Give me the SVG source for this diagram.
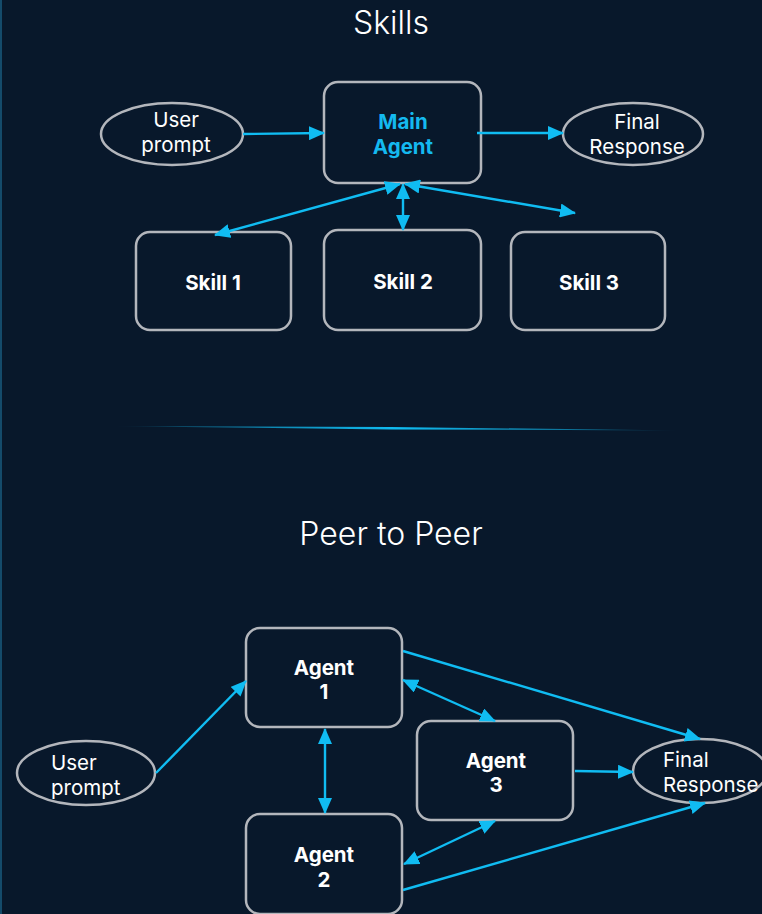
<svg xmlns="http://www.w3.org/2000/svg" width="762" height="914" viewBox="0 0 762 914">
  <defs>
    <style>
      .bg { fill: #08182b; }
      .box { fill: #08182b; stroke: #b3b6bc; stroke-width: 2.5; }
      .oval { fill: #08182b; stroke: #b3b6bc; stroke-width: 2.5; }
      .title { font-family: Inter, "Liberation Sans", sans-serif; font-size: 32px; font-weight: 300; fill: #ffffff; text-anchor: middle; }
      .lbl { font-family: Inter, "Liberation Sans", sans-serif; font-size: 20.5px; font-weight: 700; fill: #ffffff; text-anchor: middle; }
      .lbl-main { fill: #14b9f0; }
      .olbl { font-family: Inter, "Liberation Sans", sans-serif; font-size: 20.5px; font-weight: 400; fill: #ffffff; }
      .mid { text-anchor: middle; }
      .edge { stroke: #10bcf2; stroke-width: 2.4; fill: none; }
      .one { marker-end: url(#head); }
      .two { marker-start: url(#head); marker-end: url(#head); }
    </style>
    <marker id="head" viewBox="0 0 16 14" refX="15" refY="7" markerWidth="16" markerHeight="14" markerUnits="userSpaceOnUse" orient="auto-start-reverse">
      <path d="M0,0 L16,7 L0,14 z" fill="#10bcf2"/>
    </marker>
    <linearGradient id="rule" x1="112" y1="0" x2="682" y2="0" gradientUnits="userSpaceOnUse">
      <stop offset="0" stop-color="#10bcf2" stop-opacity="0"/>
      <stop offset="0.12" stop-color="#10bcf2" stop-opacity="0.45"/>
      <stop offset="0.5" stop-color="#10bcf2" stop-opacity="1"/>
      <stop offset="0.85" stop-color="#10bcf2" stop-opacity="0.5"/>
      <stop offset="1" stop-color="#10bcf2" stop-opacity="0"/>
    </linearGradient>
  </defs>

  <rect class="bg" x="0" y="0" width="762" height="914"/>
  <line x1="1" y1="0" x2="1" y2="914" stroke="#1d6f96" stroke-width="1.2"/>

  <!-- Skills section -->
  <text class="title" x="391" y="34">Skills</text>

  <g id="skills-user-prompt">
    <ellipse class="oval" cx="172" cy="134" rx="71" ry="31"/>
    <text class="olbl mid" x="176" y="127">User</text>
    <text class="olbl mid" x="176" y="152">prompt</text>
  </g>
  <g id="main-agent">
    <rect class="box" x="324" y="82" width="157" height="101" rx="14"/>
    <text class="lbl lbl-main" x="403" y="129">Main</text>
    <text class="lbl lbl-main" x="403" y="154">Agent</text>
  </g>
  <g id="skills-final-response">
    <ellipse class="oval" cx="633" cy="134" rx="70" ry="31"/>
    <text class="olbl mid" x="637" y="129">Final</text>
    <text class="olbl mid" x="637" y="154">Response</text>
  </g>
  <g id="skill-1">
    <rect class="box" x="136" y="232" width="155" height="98" rx="14"/>
    <text class="lbl" x="213" y="290">Skill 1</text>
  </g>
  <g id="skill-2">
    <rect class="box" x="324" y="230" width="157" height="100" rx="14"/>
    <text class="lbl" x="403" y="289">Skill 2</text>
  </g>
  <g id="skill-3">
    <rect class="box" x="511" y="232" width="154" height="98" rx="14"/>
    <text class="lbl" x="589" y="290">Skill 3</text>
  </g>

  <g id="skills-connectors">
    <line class="edge one" x1="243" y1="134" x2="324" y2="133"/>
    <line class="edge one" x1="477" y1="133" x2="563" y2="133"/>
    <line class="edge two" x1="400" y1="184" x2="215" y2="235"/>
    <line class="edge two" x1="403" y1="184" x2="403" y2="230"/>
    <line class="edge two" x1="405" y1="184" x2="575" y2="213"/>
  </g>

  <!-- divider -->
  <polygon points="112,426.2 390,427 682,430.4 390,429.4" fill="url(#rule)"/>

  <!-- Peer to Peer section -->
  <text class="title" x="391" y="545">Peer to Peer</text>

  <g id="peer-user-prompt">
    <ellipse class="oval" cx="86" cy="773" rx="69" ry="32"/>
    <text class="olbl" x="51" y="770">User</text>
    <text class="olbl" x="51" y="795">prompt</text>
  </g>
  <g id="agent-1">
    <rect class="box" x="246" y="628" width="156" height="99" rx="14"/>
    <text class="lbl" x="324" y="675">Agent</text>
    <text class="lbl" x="324" y="699">1</text>
  </g>
  <g id="agent-2">
    <rect class="box" x="246" y="814" width="156" height="100" rx="14"/>
    <text class="lbl" x="324" y="862">Agent</text>
    <text class="lbl" x="324" y="887">2</text>
  </g>
  <g id="agent-3">
    <rect class="box" x="417" y="721" width="156" height="99" rx="14"/>
    <text class="lbl" x="496" y="768">Agent</text>
    <text class="lbl" x="496" y="792">3</text>
  </g>
  <g id="peer-final-response">
    <ellipse class="oval" cx="700" cy="771" rx="67" ry="32"/>
    <text class="olbl" x="663" y="767">Final</text>
    <text class="olbl" x="663" y="792">Response</text>
  </g>

  <g id="peer-connectors">
    <line class="edge one" x1="156" y1="773" x2="246" y2="681"/>
    <line class="edge two" x1="325" y1="729" x2="325" y2="813"/>
    <line class="edge two" x1="403" y1="680" x2="495" y2="721"/>
    <line class="edge one" x1="403" y1="651" x2="700" y2="739"/>
    <line class="edge one" x1="575" y1="771" x2="633" y2="772"/>
    <line class="edge two" x1="495" y1="821" x2="404" y2="864"/>
    <line class="edge one" x1="403" y1="890" x2="705" y2="803"/>
  </g>
</svg>
